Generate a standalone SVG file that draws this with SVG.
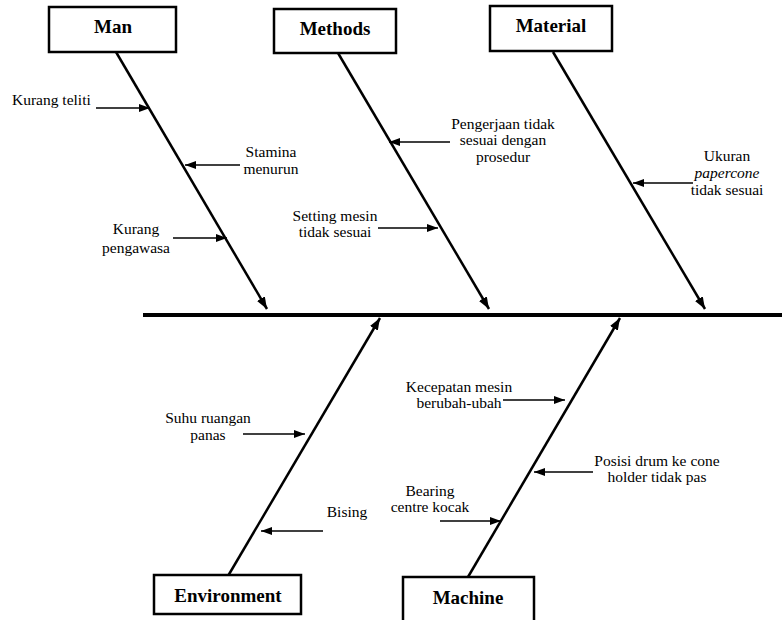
<svg xmlns="http://www.w3.org/2000/svg" width="782" height="620" viewBox="0 0 782 620">
<defs>
<marker id="ah" viewBox="0 0 12 9" refX="12" refY="4.5" markerWidth="12" markerHeight="9" markerUnits="userSpaceOnUse" orient="auto"><path d="M0,0 L12,4.5 L0,9 z" fill="#000"/></marker>
<marker id="as" viewBox="0 0 11 8" refX="11" refY="4" markerWidth="11" markerHeight="8" markerUnits="userSpaceOnUse" orient="auto"><path d="M0,0 L11,4 L0,8 z" fill="#000"/></marker>
</defs>
<style>
.box{fill:#fff;stroke:#000;stroke-width:2.5}
.title{font-weight:bold;font-size:19px;fill:#000;text-anchor:middle}
.lbl{font-size:15.5px;fill:#000}
.bone{stroke:#000;stroke-width:2.5;fill:none;marker-end:url(#ah)}
.sub{stroke:#000;stroke-width:1.5;fill:none;marker-end:url(#as)}
</style>
<rect width="782" height="620" fill="#fff"/>
<g id="connectors">
<line x1="143" y1="315" x2="782" y2="315" stroke="#000" stroke-width="4"/>
<line class="bone" x1="116" y1="52" x2="267" y2="309"/>
<line class="bone" x1="338" y1="53" x2="489" y2="309"/>
<line class="bone" x1="553" y1="52" x2="705" y2="309"/>
<line class="bone" x1="228" y1="576" x2="380" y2="318"/>
<line class="bone" x1="468" y1="577" x2="620" y2="318"/>
<line class="sub" x1="96" y1="108" x2="150" y2="108"/>
<line class="sub" x1="240" y1="165" x2="185" y2="165"/>
<line class="sub" x1="173" y1="238" x2="227" y2="238"/>
<line class="sub" x1="378" y1="228" x2="438" y2="228"/>
<line class="sub" x1="450" y1="142" x2="389" y2="142"/>
<line class="sub" x1="693" y1="183" x2="633" y2="183"/>
<line class="sub" x1="243" y1="434" x2="305" y2="434"/>
<line class="sub" x1="323" y1="531" x2="261" y2="531"/>
<line class="sub" x1="503" y1="400" x2="565" y2="400"/>
<line class="sub" x1="593" y1="472" x2="534" y2="472"/>
<line class="sub" x1="440" y1="521" x2="501" y2="521"/>
</g>
<g font-family="'Liberation Serif', 'DejaVu Serif', 'Times New Roman', serif">
<g id="man"><rect class="box" x="49" y="7" width="127" height="45"/><text class="title" x="113" y="33">Man</text></g>
<g id="methods"><rect class="box" x="274" y="9" width="122" height="44"/><text class="title" x="335" y="35">Methods</text></g>
<g id="material"><rect class="box" x="490" y="6" width="122" height="45"/><text class="title" x="551" y="32">Material</text></g>
<g id="environment"><rect class="box" x="154" y="575" width="147" height="39"/><text class="title" x="228" y="602">Environment</text></g>
<g id="machine"><rect class="box" x="403" y="577" width="131" height="45"/><text class="title" x="468" y="604">Machine</text></g>
<g id="labels">
<text class="lbl" x="12" y="105">Kurang teliti</text>
<text class="lbl" text-anchor="middle"><tspan x="271" y="157">Stamina</tspan><tspan x="271" y="174">menurun</tspan></text>
<text class="lbl" text-anchor="middle"><tspan x="136" y="234">Kurang</tspan><tspan x="136" y="253">pengawasa</tspan></text>
<text class="lbl" text-anchor="middle"><tspan x="335" y="221">Setting mesin</tspan><tspan x="335" y="237">tidak sesuai</tspan></text>
<text class="lbl" text-anchor="middle"><tspan x="503" y="129">Pengerjaan tidak</tspan><tspan x="503" y="145">sesuai dengan</tspan><tspan x="503" y="162">prosedur</tspan></text>
<text class="lbl" text-anchor="middle"><tspan x="727" y="161">Ukuran</tspan><tspan x="727" y="178" font-style="italic">papercone</tspan><tspan x="727" y="195">tidak sesuai</tspan></text>
<text class="lbl" text-anchor="middle"><tspan x="208" y="423">Suhu ruangan</tspan><tspan x="208" y="440">panas</tspan></text>
<text class="lbl" text-anchor="middle" x="347" y="517">Bising</text>
<text class="lbl" text-anchor="middle"><tspan x="459" y="392">Kecepatan mesin</tspan><tspan x="459" y="408">berubah-ubah</tspan></text>
<text class="lbl" text-anchor="middle"><tspan x="657" y="466">Posisi drum ke cone</tspan><tspan x="657" y="482">holder tidak pas</tspan></text>
<text class="lbl" text-anchor="middle"><tspan x="430" y="496">Bearing</tspan><tspan x="430" y="512">centre kocak</tspan></text>
</g>
</g>
</svg>
